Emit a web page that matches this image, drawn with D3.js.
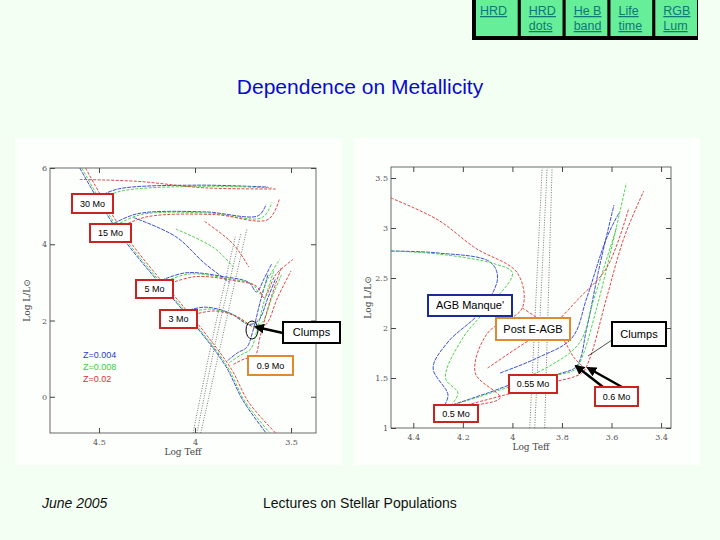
<!DOCTYPE html><html><head><meta charset="utf-8">
<script src="https://cdn.jsdelivr.net/npm/d3@7"></script>
<style>body{margin:0;background:#f4fff4}svg{display:block}</style></head><body>
<svg id="c" width="720" height="540"></svg>
<script>
// ---------- data ----------
const buttons = [["HRD",""],["HRD","dots"],["He B","band"],["Life","time"],["RGB","Lum"]];
const leftXTicks = [4.5, 4, 3.5];
const leftYTicks = [0, 2, 4, 6];
const rightXTicks = [4.4, 4.2, 4, 3.8, 3.6, 3.4];
const rightYTicks = [1, 1.5, 2, 2.5, 3, 3.5];
const zLabels = ["Z=0.004","Z=0.008","Z=0.02"];
const zColors = ["#2a3bd0","#3ccc3c","#dd3030"];
const leftTracks = [
 [
  [[4.6,6],[4.39,4.26],[3.99,1.82],[3.84,0.8],[3.75,-0.1],[3.63,-0.95]],
  [[4.5,5.25],[4.4,5.45],[4.0,5.55],[3.62,5.5]],
  [[4.42,4.55],[4.3,4.8],[3.95,4.85],[3.67,4.75],[3.63,5.05]],
  [[4.2,3.0],[4.05,3.25],[3.85,3.15],[3.72,3.0],[3.68,2.75],[3.64,3.1],[3.6,3.5]],
  [[4.08,2.2],[3.95,2.35],[3.82,2.2],[3.72,1.9],[3.67,2.0],[3.62,2.6],[3.58,3.1]],
  [[3.83,0.95],[3.78,1.15],[3.73,1.3],[3.7,1.7],[3.66,2.5],[3.62,3.2]],
  [[4.32,4.7],[4.1,4.2],[3.95,3.5],[3.82,3.0]]
 ],
 [
  [[4.59,6],[4.38,4.26],[3.98,1.8],[3.83,0.78],[3.74,-0.12],[3.61,-0.95]],
  [[4.49,5.2],[4.38,5.4],[3.98,5.52],[3.6,5.48]],
  [[4.41,4.5],[4.28,4.78],[3.93,4.82],[3.65,4.7],[3.6,5.1]],
  [[4.19,2.95],[4.03,3.22],[3.83,3.1],[3.7,2.95],[3.66,2.7],[3.62,3.1],[3.56,3.6]],
  [[4.07,2.15],[3.93,2.3],[3.8,2.15],[3.7,1.85],[3.65,1.95],[3.6,2.6],[3.55,3.2]],
  [[3.82,0.9],[3.76,1.1],[3.71,1.25],[3.68,1.7],[3.64,2.5],[3.59,3.3]],
  [[4.1,4.4],[3.9,3.9],[3.8,3.4]]
 ],
 [
  [[4.57,6],[4.36,4.22],[3.96,1.75],[3.81,0.72],[3.72,-0.15],[3.58,-0.95]],
  [[4.6,5.7],[4.3,5.65],[3.95,5.48],[3.58,5.45]],
  [[4.39,4.45],[4.25,4.72],[3.9,4.78],[3.62,4.65],[3.56,5.2]],
  [[4.17,2.9],[4.0,3.15],[3.8,3.05],[3.68,2.9],[3.64,2.6],[3.58,3.2],[3.49,3.6]],
  [[4.05,2.1],[3.9,2.25],[3.78,2.1],[3.68,1.8],[3.63,1.9],[3.57,2.6],[3.5,3.3]],
  [[3.8,0.85],[3.74,1.0],[3.69,1.05],[3.66,1.6],[3.61,2.5],[3.55,3.4]],
  [[3.95,4.6],[3.8,4.0],[3.72,3.4]]
 ]
];
const leftStrip = [
 [[4.01,-0.95],[3.91,1.5],[3.79,4.2]],
 [[3.99,-0.95],[3.89,1.5],[3.76,4.3]],
 [[3.97,-0.95],[3.86,1.5],[3.73,4.4]]
];
const rightTracks = [
 [
  [[4.49,2.77],[4.3,2.75],[4.09,2.66],[4.06,2.5],[4.13,2.16],[4.26,1.86],[4.32,1.6],[4.26,1.33],[4.28,1.2]],
  [[4.28,1.2],[4.1,1.35],[3.95,1.48],[3.8,1.55],[3.74,1.62],[3.7,2.0],[3.65,2.6],[3.59,3.23]],
  [[4.05,1.55],[3.9,1.7],[3.76,1.9],[3.7,2.3],[3.62,2.9],[3.57,3.15]]
 ],
 [
  [[4.49,2.77],[4.3,2.74],[4.07,2.64],[4.0,2.55],[4.1,2.2],[4.2,1.9],[4.27,1.5],[4.22,1.35],[4.25,1.22]],
  [[4.25,1.22],[4.05,1.38],[3.9,1.5],[3.75,1.58],[3.72,1.7],[3.66,2.2],[3.6,2.8],[3.54,3.45]],
  [[4.0,1.45],[3.85,1.62],[3.73,1.85],[3.67,2.3],[3.58,3.0]]
 ],
 [
  [[4.49,3.3],[4.3,3.08],[4.15,2.8],[3.98,2.55],[3.96,2.2],[4.1,1.95],[4.15,1.55],[4.05,1.3],[4.2,1.22]],
  [[4.2,1.22],[4.0,1.35],[3.85,1.45],[3.72,1.55],[3.69,1.68],[3.62,2.3],[3.55,2.9],[3.47,3.37]],
  [[4.1,1.6],[3.95,1.85],[3.85,2.0],[3.73,2.3],[3.62,2.6],[3.53,3.2]],
  [[3.96,2.2],[3.9,2.1],[3.8,1.9],[3.75,1.7],[3.7,1.58]]
 ]
];
const rightStrip = [
 [[3.93,1],[3.88,3.6]],[[3.91,1],[3.86,3.6]],[[3.87,1],[3.84,3.6]]
];
// ---------- drawing ----------
const svg = d3.select("#c");
const F = "Liberation Sans, Arial, sans-serif";
svg.append("rect").attr("width",720).attr("height",540).attr("fill","#f3fff3");
const bx = d3.scaleBand().domain(d3.range(buttons.length)).range([476,697]).paddingInner(0.07);
svg.append("rect").attr("x",472).attr("y",0).attr("width",226).attr("height",40).attr("fill","#000");
buttons.forEach((b,i)=>{
  const x = bx(i);
  svg.append("rect").attr("x",x).attr("y",0).attr("width",bx.bandwidth()).attr("height",36).attr("fill","#66ee99");
  b.forEach((t,j)=>{ if(!t) return;
    svg.append("text").attr("x",x+(i==0?4:8)).attr("y",15+j*15).text(t).attr("font-family",F).attr("font-size",12.5)
      .attr("fill","#117777").attr("text-decoration","underline");
  });
});
svg.append("text").attr("x",360).attr("y",94).attr("text-anchor","middle").text("Dependence on Metallicity")
  .attr("font-family",F).attr("font-size",21).attr("fill","#0a0acc");
svg.append("text").attr("x",42).attr("y",508).text("June 2005").attr("font-family",F).attr("font-size",14).attr("font-style","italic").attr("fill","#111");
svg.append("text").attr("x",263).attr("y",508).text("Lectures on Stellar Populations").attr("font-family",F).attr("font-size",14).attr("fill","#111");

function panel(box, plot, xd, yd, xt, yt, tracks, strip, xl, yl, yfmt){
  svg.append("rect").attr("x",box[0]).attr("y",box[1]).attr("width",box[2]).attr("height",box[3]).attr("fill","#fdfffd");
  const x = d3.scaleLinear().domain(xd).range([plot[0],plot[2]]);
  const y = d3.scaleLinear().domain(yd).range([plot[3],plot[1]]);
  const g = svg.append("g");
  g.append("rect").attr("x",plot[0]).attr("y",plot[1]).attr("width",plot[2]-plot[0]).attr("height",plot[3]-plot[1])
   .attr("fill","none").attr("stroke","#444").attr("stroke-width",0.8);
  const gx = g.append("g").attr("transform",`translate(0,${plot[3]})`).call(d3.axisBottom(x).tickValues(xt).tickSize(-5).tickFormat(d3.format("")));
  g.append("g").attr("transform",`translate(${plot[0]},0)`).call(d3.axisLeft(y).tickValues(yt).tickSize(-5).tickFormat(yfmt));
  g.append("g").attr("transform",`translate(0,${plot[1]})`).call(d3.axisTop(x).tickValues(xt).tickSize(-5).tickFormat(""));
  g.append("g").attr("transform",`translate(${plot[2]},0)`).call(d3.axisRight(y).tickValues(yt).tickSize(-5).tickFormat(""));
  g.selectAll(".domain").remove();
  g.selectAll(".tick line").attr("stroke","#444");
  g.selectAll(".tick text").attr("font-family","DejaVu Serif").attr("font-size",8).attr("fill","#555");
  gx.selectAll(".tick text").attr("dy","1.1em");
  const line = d3.line().x(d=>x(d[0])).y(d=>y(d[1])).curve(d3.curveCatmullRom);
  strip.forEach(s=>g.append("path").attr("d",line(s)).attr("fill","none").attr("stroke","#555").attr("stroke-width",0.8).attr("stroke-dasharray","1,1.5"));
  tracks.forEach((ts,i)=>ts.forEach(t=>g.append("path").attr("d",line(t)).attr("fill","none")
    .attr("stroke",zColors[i]).attr("stroke-width",0.9).attr("stroke-dasharray",i==0?"4,1":"3,1.5")));
  svg.append("text").attr("x",(plot[0]+plot[2])/2).attr("y",plot[3]+22).attr("text-anchor","middle")
    .attr("font-family","DejaVu Serif").attr("font-size",9).attr("fill","#444").text(xl);
  svg.append("text").attr("transform",`translate(${plot[0]-20},${(plot[1]+plot[3])/2}) rotate(-90)`).attr("text-anchor","middle")
    .attr("font-family","DejaVu Serif").attr("font-size",9).attr("fill","#444").text(yl);
}
panel([15,138,327,327],[50,168,316,433],[4.755,3.37],[-0.95,6],leftXTicks,leftYTicks,leftTracks,leftStrip,"Log Teff","Log L/L\u2299",d3.format(""));
panel([354,138,346,327],[391,167,671,428],[4.49,3.36],[1,3.61],rightXTicks,rightYTicks,rightTracks,rightStrip,"Log Teff","Log L/L\u2299",d3.format(""));
zLabels.forEach((t,i)=>svg.append("text").attr("x",83).attr("y",358+i*12).text(t).attr("font-family",F).attr("font-size",9).attr("fill",zColors[i]));
const boxes = [
 ["30 Mo",72,194,41,19,"#cc2222",9],["15 Mo",90,224,41,18,"#cc2222",9],["5 Mo",136,280,37,18,"#cc2222",9],
 ["3 Mo",160,310,37,18,"#cc2222",9],["Clumps",283,322,57,21,"#000",11],["0.9 Mo",248,356,45,19,"#e08a30",9],
 ["AGB Manque'",428,295,84,21,"#1a2a9a",11],["Post E-AGB",496,318,74,22,"#e08a30",11],["Clumps",612,322,54,24,"#000",11],
 ["0.55 Mo",509,375,48,18,"#cc2222",9],["0.6 Mo",595,387,43,19,"#cc2222",9],["0.5 Mo",434,405,44,17,"#cc2222",9]
];
svg.append("defs").append("marker").attr("id","ah").attr("viewBox","0 0 10 10").attr("refX",8).attr("refY",5)
 .attr("markerWidth",4).attr("markerHeight",4).attr("orient","auto").append("path").attr("d","M0,0L10,5L0,10z");
svg.append("ellipse").attr("cx",252).attr("cy",330).attr("rx",6).attr("ry",9).attr("fill","none").attr("stroke","#000");
const arrows = [[283,333,256,327],[603,387,576,366],[622,387,588,368]];
arrows.forEach(a=>svg.append("line").attr("x1",a[0]).attr("y1",a[1]).attr("x2",a[2]).attr("y2",a[3]).attr("stroke","#000").attr("stroke-width",2.5).attr("marker-end","url(#ah)"));
svg.append("line").attr("x1",612).attr("y1",340).attr("x2",588).attr("y2",356).attr("stroke","#000").attr("stroke-width",0.7);
boxes.forEach(b=>{
  svg.append("rect").attr("x",b[1]).attr("y",b[2]).attr("width",b[3]).attr("height",b[4]).attr("fill","#fff").attr("stroke",b[5]).attr("stroke-width",2);
  svg.append("text").attr("x",b[1]+b[3]/2).attr("y",b[2]+b[4]/2+b[6]*0.36).attr("text-anchor","middle").text(b[0])
    .attr("font-family",F).attr("font-size",b[6]).attr("fill","#000");
});
</script></body></html>
